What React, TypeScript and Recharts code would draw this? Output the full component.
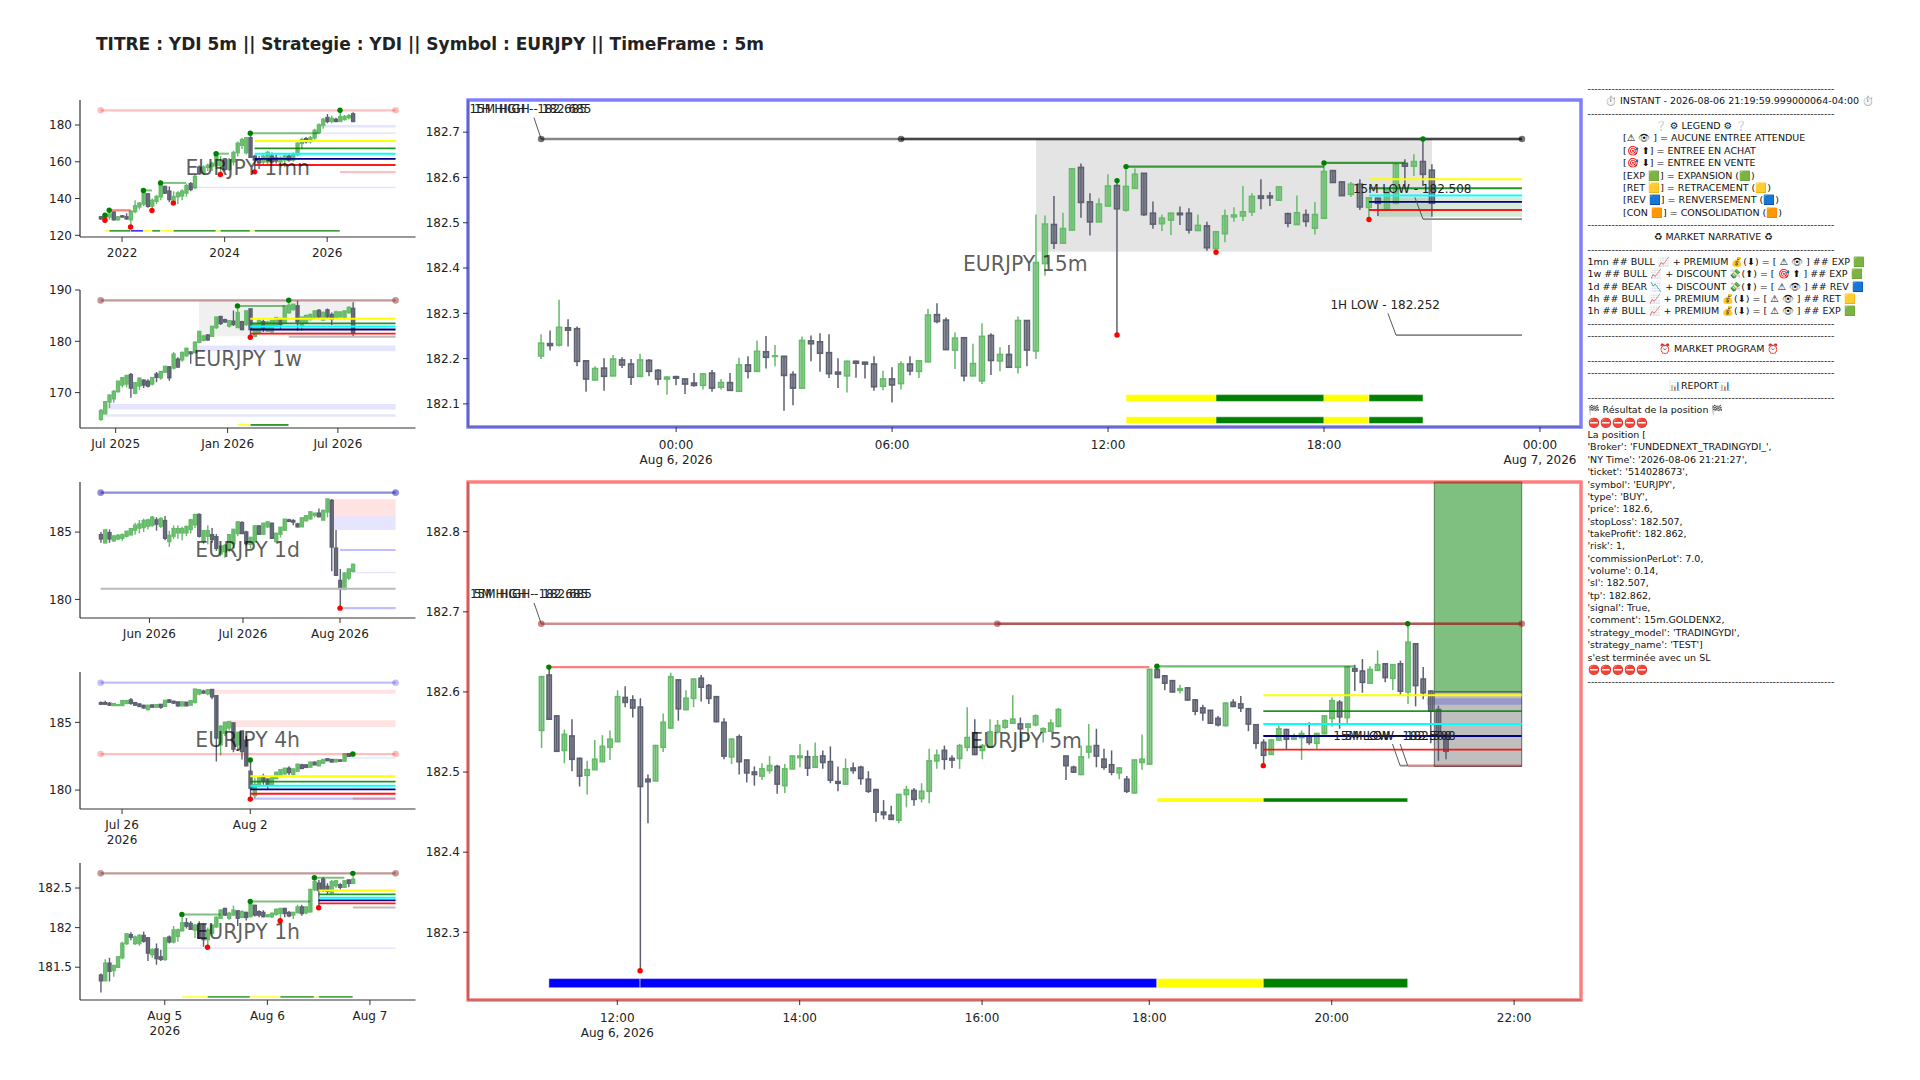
import { Bar, ComposedChart, ReferenceArea, ReferenceDot, ReferenceLine, XAxis, YAxis } from "recharts";

// candles are [open, high, low, close]
const candles1mn = [
  [130,130.5,128.5,129],[129,131,128.2,130.5],[130,133.6,128.5,131.5],[132.5,133,128,128.5],[128.5,130.5,128,130],[130.5,131,129.5,130],
  [130,132,128.5,129],[128.5,133.6,124.5,133],[133,139,132,136],[135.5,138,134,137.5],[137,144.4,136,143],[142.5,143,135,135.8],
  [136,140,133.5,139],[138.5,142,137,141],[141,148.5,139,147],[146.5,147,142.5,143],[144,146.5,138,139.5],[138,144,137.5,141],
  [141,144,137,143],[141.5,145,139,144],[143,148,141,147],[148,149,144,145],[146,153,145,152],[157,158,153,153.5],
  [154,158,153,157],[157,159,155,158],[157.5,160,155,159],[158,164.4,156,163],[158,163,153.1,160],[161.5,162,155,156],
  [156,162,155,161],[160,166,158,165],[165,171,163,170],[169,173,167,172],[165,173,164,173],[173,175.5,162,162.5],
  [163,163.5,154.5,161],[161.5,163,156,159.5],[160,164,158,163],[160,166,158,165],[163,165,159,160],[162,164,159,160.5],
  [160,163,158,162],[161,164,157,163],[163,164,160,161],[161,165,160,164],[164,171,163,170],[170,173,167,172],
  [172.5,173.5,170,171],[171,174,170,173],[173,178,172,177],[176,181,175,180],[180,184,178,183],[184,186,181,182],
  [182,185,181,183.5],[183,184,181.5,182],[182,188,182,184.5],[183,185.5,182.5,184.5],[184,186,183,185],[186,187,181.5,182],
];
const candles1w = [
  [164.8,166.8,164.5,166.5],[165.9,168.3,165.8,168.2],[168.2,169.6,167,169.5],[168.8,170.5,168,170.2],[170.2,172.3,170,172.2],[171.5,173,171,172.9],
  [171.7,173.5,171,173.3],[173.5,173.8,169,170.9],[169.9,172,169.7,171.9],[171.3,172.9,170.5,172.8],[172.4,172.6,170.9,171.5],[172.2,172.6,171,171.3],
  [171.7,173,171.4,172.9],[173.6,174,172,173],[172.9,174.2,172.5,174.1],[174,175.2,173.8,175.1],[175,175.2,172.3,172.9],[174.8,177.9,174.5,177.5],
  [176.5,176.9,174.9,175],[176.4,178,176,177.8],[177.2,178.8,177,178.6],[177.9,178,175.6,177.6],[177.8,180,177.7,179.8],[179.8,182,179.6,181.9],
  [180.2,181.3,180,181],[181.2,181.4,180.1,180.3],[181,183,180.9,182.9],[182.7,184.8,182.4,184.7],[184.8,185,183.2,183.5],[184.2,184.4,183.6,183.8],
  [183,184,182.7,184],[183.9,186,183,183.3],[182.7,186.9,182.6,185.6],[183.8,184,182.2,182.3],[183.3,186,183,185.9],[186.3,186.3,180.8,182.3],
  [181,183.3,180.8,183.3],[181.7,184.4,181.4,184],[183.8,184.2,181.8,182.4],[182,184,181.8,183.7],[181.9,184.3,181.6,184],[183,184.7,182.8,184.6],
  [184.3,184.6,182.4,183.3],[183.6,187,183.5,186.9],[185.6,188,185.4,187],[186.2,187.3,186,187.2],[186.9,187.9,182,183.8],[183,184.8,182,184.7],
  [183.6,185.2,183.4,185],[184.3,185.4,184,185.2],[184.6,186,184.4,185.9],[186,186.3,184.5,184.8],[184.2,185.8,184,185.6],[186.1,186.4,184.4,184.8],
  [185.2,185.6,183.2,184.3],[184.6,186,184.4,185.7],[184.8,185.8,184.6,185.7],[184.6,186,184.2,185.9],[185.6,186.8,185.4,186.6],[186.4,187.6,181,181.7],
];
const candles1d = [
  [184.8,185,184.2,184.5],[184.2,185.2,184.2,185.15],[184.95,185.2,184.2,184.5],[184.35,184.8,184.3,184.7],[184.5,184.85,184.4,184.75],[184.55,184.9,184.35,184.8],
  [184.7,185.1,184.6,185.05],[184.8,185.3,184.8,185.25],[185.15,185.7,184.8,185.5],[185.3,185.9,184.9,185.6],[185.35,186,185,185.85],[185.45,186,185.2,185.9],
  [185.5,186.2,185.4,186.1],[185.9,186.1,185.1,185.6],[185.45,186.1,185.3,186],[185.85,186.2,184.4,184.55],[184.3,185.1,183.9,184.75],[184.7,185.5,184.5,185.25],
  [184.95,185.5,184.5,185.25],[184.95,185.4,184.4,185.25],[184.95,185.5,184.7,185.4],[185.2,186,184.9,185.9],[185.55,186.3,185.3,186.3],[186.3,186.4,184.6,184.7],
  [184.35,185.1,184.1,185.1],[184.7,185.5,184.1,185.1],[184.8,185.3,184.2,184.45],[184.65,184.85,183.6,183.8],[183.4,184,183.2,183.95],[183.55,184.1,183.1,184],
  [183.8,184.8,183.5,184.8],[184.15,185.2,183.8,185.2],[184.9,185.8,184.7,185.75],[185.7,185.8,184.9,184.9],[185,185.1,184,184.15],[184.1,184.6,183.8,184.6],
  [184.3,185.5,184.2,185.45],[185.45,185.5,184.8,184.85],[184.85,185.65,184.8,185.65],[185.4,185.8,185.3,185.75],[185.65,185.7,184.5,184.55],[184.3,184.95,184.3,184.9],
  [184.85,185.35,184.6,185.35],[185.15,185.95,185.1,185.95],[185.9,186,185.75,185.8],[185.85,185.95,185.5,185.75],[185.6,185.7,185.35,185.4],[185.4,186.05,185.4,186.05],
  [185.85,186.25,185.8,186.2],[186,186.55,185.9,186.5],[186.25,186.4,186.1,186.4],[186.4,186.75,186.1,186.15],[185.9,186.65,185.9,186.6],[186.5,187.45,186.1,187.45],
  [187.35,187.45,182.1,183.9],[183.8,185.15,181.8,181.8],[181.4,182.25,179.35,180.8],[180.75,182,180.75,181.95],[181.6,182.3,181.45,182.25],[182.1,182.65,182,182.6],
];
const candles4h = [
  [186.45,186.55,186.3,186.35],[186.45,186.6,186.3,186.35],[186.4,186.5,186.2,186.28],[186.25,186.4,186.2,186.38],[186.25,186.35,186.2,186.3],[186.25,186.62,186.2,186.6],
  [186.4,186.65,186.35,186.6],[186.65,186.8,186.3,186.42],[186.45,186.5,186.25,186.28],[186.35,186.4,186.15,186.18],[186.25,186.3,186,186.08],[185.95,186.3,185.9,186.25],
  [186.28,186.3,186.1,186.13],[186.13,186.32,186.1,186.3],[186.32,186.35,186,186.13],[186.2,186.65,186.15,186.62],[186.65,186.7,186.45,186.5],[186.55,186.6,186.35,186.43],
  [186.5,186.55,186.15,186.23],[186.23,186.52,186.2,186.5],[186.48,186.5,186.2,186.23],[186.28,186.65,186.25,186.6],[186.48,187.46,186.4,187.45],[187.12,187.45,187,187.4],
  [187.3,187.4,187.15,187.17],[187.12,187.42,187,187.4],[187.42,187.45,186.7,186.9],[186.97,187,182.1,183.85],[183.35,184.8,182.55,184.7],[184.2,185.05,184,185],
  [184.6,185.1,184.4,185.05],[184.95,185,182.8,183.03],[183.35,184.3,182.9,184.25],[184.35,184.4,182.25,182.85],[183.67,184,181.75,181.8],[181.38,182.2,179.35,180.15],
  [179.6,180.9,179.4,180.4],[180.4,180.95,180.2,180.9],[181,181.2,180.4,180.65],[180.8,180.85,180.1,180.4],[180.4,181,180.3,180.9],[180.85,181.35,180.85,181.3],
  [181.1,181.55,181,181.5],[181.2,181.65,181.15,181.6],[181.6,181.75,181.1,181.3],[181.15,181.6,181.1,181.55],[181.4,181.95,181.4,181.9],[181.85,181.95,181.55,181.6],
  [181.85,181.9,181.65,181.68],[181.7,182.1,181.65,182.05],[182.05,182.1,181.85,181.87],[181.8,182.2,181.75,182.15],[182,182.3,181.95,182.25],[182.3,182.32,182.15,182.18],
  [182.25,182.28,182.05,182.08],[182.1,182.28,182.05,182.25],[182.22,182.26,182.1,182.14],[182.14,182.7,182.12,182.66],[182.68,182.72,182.45,182.5],[182.55,182.75,182.5,182.7],
];
const candles1h = [
  [181.4,181.42,181.18,181.33],[181.33,181.6,181.33,181.55],[181.55,181.62,181.32,181.45],[181.46,181.53,181.38,181.52],[181.5,181.63,181.5,181.63],[181.62,181.82,181.6,181.8],
  [181.8,181.93,181.78,181.92],[181.91,181.94,181.84,181.88],[181.8,181.9,181.78,181.88],[181.8,181.92,181.77,181.9],[181.9,181.95,181.81,181.83],[181.87,181.88,181.58,181.68],
  [181.66,181.74,181.62,181.72],[181.73,181.8,181.53,181.61],[181.63,181.72,181.58,181.6],[181.6,181.87,181.58,181.87],[181.88,181.9,181.8,181.82],[181.82,182.02,181.8,181.97],
  [181.89,181.99,181.82,181.97],[181.96,182.17,181.96,182.06],[182.06,182.12,181.99,182.02],[182.05,182.08,181.97,181.98],[181.97,182.05,181.87,182.03],[182.03,182.08,181.86,181.87],
  [182.03,182.05,181.76,181.85],[181.85,182,181.75,181.97],[181.93,182.03,181.9,182.03],[182.01,182.14,182,182.13],[182.12,182.23,182.12,182.22],[182.24,182.25,182.15,182.16],
  [182.12,182.2,182.1,182.18],[182.16,182.28,182.15,182.22],[182.21,182.22,182.02,182.12],[182.13,182.22,182.12,182.2],[182.19,182.2,182.09,182.13],[182.14,182.33,182.13,182.29],
  [182.28,182.29,182.14,182.16],[182.2,182.22,182.13,182.16],[182.19,182.22,182.13,182.14],[182.14,182.17,182.13,182.16],[182.14,182.19,182.12,182.18],[182.17,182.24,182.15,182.23],
  [182.18,182.25,182.09,182.24],[182.24,182.25,182.13,182.18],[182.19,182.21,182.13,182.15],[182.16,182.2,182.11,182.19],[182.19,182.29,182.18,182.26],[182.26,182.29,182.15,182.18],
  [182.19,182.27,182.17,182.26],[182.2,182.49,182.19,182.48],[182.48,182.63,182.46,182.58],[182.56,182.6,182.25,182.47],[182.61,182.64,182.45,182.48],[182.52,182.56,182.42,182.46],
  [182.44,182.6,182.43,182.58],[182.53,182.6,182.5,182.59],[182.54,182.56,182.48,182.51],[182.51,182.6,182.5,182.59],[182.6,182.61,182.51,182.56],[182.56,182.69,182.55,182.61],
];
const candles15m = [
  [182.206,182.254,182.199,182.234],[182.233,182.262,182.218,182.229],[182.230,182.330,182.227,182.269],[182.268,182.287,182.227,182.263],[182.266,182.271,182.183,182.194],
  [182.195,182.195,182.127,182.155],[182.153,182.183,182.152,182.178],[182.179,182.201,182.129,182.161],[182.162,182.208,182.161,182.199],[182.197,182.203,182.179,182.186],
  [182.188,182.199,182.142,182.159],[182.161,182.211,182.159,182.197],[182.196,182.199,182.161,182.172],[182.174,182.177,182.141,182.155],[182.155,182.161,182.120,182.159],
  [182.160,182.162,182.141,182.157],[182.155,182.155,182.122,182.144],[182.146,182.168,182.138,182.141],[182.141,182.168,182.132,182.166],[182.168,182.175,182.127,182.135],
  [182.137,182.155,182.132,182.147],[182.147,182.168,182.129,182.130],[182.128,182.202,182.127,182.186],[182.186,182.205,182.156,182.172],[182.172,182.240,182.172,182.216],
  [182.215,182.250,182.178,182.203],[182.205,182.230,182.183,182.206],[182.205,182.206,182.085,182.163],[182.165,182.172,182.097,182.135],[182.135,182.249,182.134,182.240],
  [182.239,182.251,182.194,182.233],[182.237,182.256,182.171,182.212],[182.213,182.254,182.157,182.167],[182.170,182.201,182.135,182.166],[182.162,182.196,182.125,182.194],
  [182.194,182.196,182.158,182.190],[182.192,182.193,182.156,182.188],[182.188,182.205,182.129,182.138],[182.139,182.173,182.130,182.155],[182.155,182.181,182.103,182.142],
  [182.145,182.194,182.132,182.188],[182.188,182.205,182.163,182.173],[182.172,182.197,182.157,182.195],[182.193,182.310,182.192,182.296],[182.297,182.322,182.278,182.282],
  [182.285,182.291,182.219,182.220],[182.219,182.258,182.177,182.245],[182.246,182.247,182.150,182.162],[182.162,182.233,182.161,182.189],[182.151,182.278,182.144,182.249],
  [182.251,182.256,182.164,182.196],[182.195,182.225,182.172,182.209],[182.209,182.230,182.179,182.181],[182.181,182.293,182.167,182.284],[182.284,182.284,182.183,182.219],
  [182.217,182.518,182.199,182.412],[182.410,182.516,182.383,182.497],[182.496,182.559,182.442,182.455],[182.455,182.522,182.453,182.487],[182.484,182.620,182.483,182.619],
  [182.622,182.631,182.511,182.545],[182.546,182.565,182.472,182.502],[182.502,182.554,182.502,182.541],[182.537,182.607,182.536,182.581],[182.582,182.593,182.252,182.531],
  [182.528,182.624,182.524,182.580],[182.576,182.620,182.575,182.607],[182.609,182.610,182.515,182.518],[182.521,182.547,182.487,182.497],[182.498,182.518,182.482,182.510],
  [182.506,182.522,182.473,182.521],[182.521,182.536,182.495,182.518],[182.521,182.532,182.476,182.484],[182.483,182.518,182.482,182.494],[182.493,182.502,182.438,182.445],
  [182.443,182.482,182.435,182.480],[182.476,182.529,182.457,182.515],[182.513,182.534,182.502,182.517],[182.515,182.581,182.504,182.524],[182.524,182.565,182.515,182.558],
  [182.559,182.596,182.530,182.554],[182.559,182.568,182.537,182.555],[182.550,182.580,182.549,182.579],[182.520,182.522,182.490,182.499],[182.496,182.560,182.495,182.522],
  [182.518,182.529,182.491,182.503],[182.488,182.546,182.474,182.518],[182.510,182.632,182.509,182.613],[182.615,182.615,182.588,182.589],[182.590,182.591,182.560,182.560],
  [182.563,182.590,182.557,182.585],[182.585,182.596,182.528,182.535],[182.534,182.557,182.507,182.555],[182.554,182.555,182.515,182.543],[182.529,182.576,182.528,182.575],
  [182.543,182.632,182.541,182.629],[182.631,182.640,182.576,182.625],[182.625,182.651,182.603,182.635],[182.635,182.685,182.581,182.607],[182.616,182.629,182.513,182.543],
];
const candles5m = [
  [182.552,182.620,182.530,182.619],[182.621,182.631,182.565,182.566],[182.570,182.571,182.525,182.526],[182.527,182.553,182.511,182.547],[182.545,182.566,182.501,182.516],
  [182.517,182.518,182.482,182.495],[182.496,182.514,182.472,182.503],[182.503,182.540,182.503,182.516],[182.513,182.546,182.513,182.532],[182.531,182.552,182.515,182.541],
  [182.538,182.602,182.538,182.594],[182.593,182.607,182.581,182.587],[182.590,182.596,182.568,182.580],[182.581,182.592,182.252,182.482],[182.491,182.497,182.436,182.488],
  [182.489,182.534,182.489,182.533],[182.531,182.573,182.525,182.562],[182.555,182.624,182.554,182.619],[182.615,182.616,182.564,182.579],[182.578,182.602,182.577,182.592],
  [182.592,182.617,182.581,182.616],[182.617,182.621,182.588,182.606],[182.608,182.610,182.585,182.592],[182.594,182.594,182.562,182.563],[182.562,182.567,182.516,182.520],
  [182.519,182.542,182.510,182.541],[182.544,182.547,182.497,182.513],[182.515,182.515,182.487,182.499],[182.500,182.507,182.483,182.497],[182.495,182.511,182.490,182.504],
  [182.502,182.520,182.498,182.508],[182.507,182.509,182.473,182.485],[182.483,182.510,182.474,182.504],[182.504,182.521,182.504,182.520],[182.518,182.535,182.506,182.520],
  [182.519,182.527,182.495,182.505],[182.506,182.537,182.506,182.519],[182.520,182.527,182.504,182.512],[182.513,182.532,182.486,182.490],[182.488,182.507,182.476,182.486],
  [182.485,182.517,182.484,182.504],[182.505,182.512,182.498,182.502],[182.506,182.508,182.484,182.492],[182.491,182.501,182.474,182.476],[182.478,182.479,182.438,182.450],
  [182.450,182.465,182.441,182.447],[182.446,182.458,182.440,182.441],[182.440,182.472,182.436,182.472],[182.472,182.483,182.456,182.478],[182.477,182.480,182.458,182.466],
  [182.467,182.486,182.462,182.476],[182.476,182.529,182.461,182.514],[182.514,182.528,182.504,182.521],[182.527,182.533,182.503,182.516],[182.517,182.521,182.505,182.515],
  [182.517,182.535,182.504,182.533],[182.531,182.581,182.526,182.543],[182.549,182.566,182.521,182.522],[182.527,182.535,182.516,182.533],[182.531,182.566,182.530,182.550],
  [182.550,182.565,182.548,182.558],[182.556,182.566,182.554,182.564],[182.561,182.596,182.560,182.566],[182.560,182.568,182.530,182.554],[182.556,182.561,182.539,182.560],
  [182.559,182.572,182.557,182.570],[182.550,182.556,182.537,182.554],[182.551,182.566,182.550,182.561],[182.557,182.580,182.556,182.578],[182.520,182.520,182.490,182.508],
  [182.506,182.508,182.499,182.500],[182.497,182.533,182.496,182.519],[182.525,182.560,182.517,182.532],[182.533,182.554,182.506,182.520],[182.516,182.529,182.503,182.506],
  [182.509,182.527,182.496,182.500],[182.499,182.506,182.491,182.505],[182.491,182.495,182.474,182.476],[182.474,182.515,182.473,182.515],[182.512,182.547,182.503,182.516],
  [182.510,182.629,182.510,182.628],[182.628,182.632,182.618,182.618],[182.620,182.621,182.602,182.611],[182.614,182.614,182.600,182.600],[182.602,182.609,182.598,182.604],
  [182.605,182.606,182.589,182.590],[182.590,182.591,182.571,182.576],[182.580,182.584,182.564,182.574],[182.577,182.577,182.560,182.561],[182.567,182.570,182.557,182.559],
  [182.558,182.587,182.557,182.586],[182.587,182.591,182.581,182.582],[182.585,182.595,182.575,182.580],[182.579,182.580,182.551,182.560],[182.559,182.560,182.529,182.536],
  [182.537,182.541,182.508,182.521],[182.522,182.541,182.522,182.540],[182.540,182.558,182.539,182.554],[182.553,182.554,182.529,182.541],[182.541,182.548,182.540,182.545],
  [182.543,182.552,182.515,182.548],[182.545,182.562,182.534,182.537],[182.536,182.549,182.529,182.548],[182.548,182.571,182.547,182.570],[182.567,182.593,182.557,182.589],
  [182.587,182.590,182.554,182.569],[182.568,182.632,182.560,182.631],[182.629,182.634,182.601,182.626],[182.626,182.641,182.599,182.612],[182.611,182.632,182.611,182.628],
  [182.627,182.652,182.626,182.634],[182.635,182.636,182.612,182.618],[182.617,182.634,182.602,182.634],[182.635,182.639,182.596,182.601],[182.600,182.685,182.585,182.662],
  [182.660,182.661,182.582,182.608],[182.616,182.631,182.591,182.599],[182.601,182.602,182.536,182.576],[182.578,182.583,182.514,182.547],[182.547,182.549,182.516,182.526],
];

// overlays: [kind, from, to, price]
const segs1mn = [["pink",0,69,188],["pinkStair",2,7,133.6],["stairSm",10,12,144.4],["stairSm",14,20,148.5],["stairSm",27,30,164.4],["stairSm",35,51,175.5],
  ["yellow",36,69,171.3],["yellow",56,69,171.3],["green",36,69,167.3],["cyan",36,69,164.4],["navy",36,69,161.6],["red",36,69,158.2],["pink",56,69,154.4],["lav",50,69,175.5],["lav",21,69,146]];
const zones1mn = [["lavZone",51,69,178.7,180],["yellowRow",1,2,121.9,122.9],["greenRow",2,7,121.9,122.9],["blueRow",7,10,121.9,122.9],["yellowRow",10,12,121.9,122.9],["greenRow",12,14,121.9,122.9],["yellowRow",14,17,121.9,122.9],["greenRow",17,27,121.9,122.9],["yellowRow",27,28,121.9,122.9],["greenRow",28,35,121.9,122.9],["yellowRow",35,36,121.9,122.9],["greenRow",36,56,121.9,122.9]];
const dots1mn = [["pinkEnd",0,188],["pinkEnd",69,188],["up",1,130.9],["up",2,133.6],["up",10,144.4],["up",14,148.5],["up",27,164.4],["up",35,175.5],["up",56,188],["down",1,128.2],["down",7,124.5],["down",12,133.5],["down",17,137.5],["down",28,153.1],["down",36,154.5]];

const segs1w = [["brown",0,69,187.97],["stairSm",32,43,186.9],["yellow",35,69,184.4],["green",35,69,183.5],["cyan",35,69,182.9],["navy",35,69,182.3],["red",35,69,181.5],["graySm",44,69,180.9]];
const zones1w = [["paleGray",23,59.7,181,187.9],["lavZone",22.5,69,178.07,179.2],["lavZone",1,69,166.7,167.8],["lavZone",1,69,165.3,165.8],["yellowRow",32,35,163.5,163.9],["greenRow",35,44,163.5,163.9]];
const dots1w = [["brownEnd",0,187.97],["brownEnd",69,187.97],["up",32,186.9],["up",44,188],["down",35,180.8]];

const segs1d = [["blue",0,69,187.93],["graySm",0,69,180.79],["lavBold",56,69,183.67],["lavBold",56,69,179.36],["lav",59,69,182]];
const zones1d = [["pinkZone",54,69,186.18,187.44],["lavZone",54,69,185.15,186.18]];
const dots1d = [["blueEnd",0,187.93],["blueEnd",69,187.93],["down",56,179.35]];

const segs4h = [["lavBold",0,69,187.93],["pink",0,69,182.66],["yellow",35,69,181.01],["green",35,69,180.62],["cyan",35,69,180.32],["navy",35,69,180.05],["red",35,69,179.73],["lavBold",35,69,179.36],["pink",59,69,179.36],["lav",57,69,182.36]];
const zones4h = [["pinkZone",26,69,187.12,187.41],["pinkZone",30,69,184.66,185.15]];
const dots4h = [["lavEnd",0,187.93],["lavEnd",69,187.93],["pinkEnd",0,182.66],["pinkEnd",69,182.66],["up",35,182.22],["up",59,182.66],["down",35,179.33]];

const segs1h = [["brown",0,69,182.685],["stairSm",19,28,182.167],["stairSm",35,49,182.33],["stairSm",50,57,182.63],["yellow",51,69,182.47],["green",51,69,182.42],["cyan",51,69,182.378],["navy",51,69,182.344],["red",51,69,182.306],["graySm",59,69,182.255]];
const zones1h = [["lavZone",15,69,181.73,181.75],["yellowRow",19,25,181.113,181.135],["greenRow",25,35,181.113,181.135],["yellowRow",35,42,181.113,181.135],["greenRow",42,50,181.113,181.135],["yellowRow",50,51,181.113,181.135],["greenRow",51,59,181.113,181.135]];
const dots1h = [["brownEnd",0,182.685],["brownEnd",69,182.685],["up",19,182.167],["up",35,182.33],["up",50,182.63],["up",59,182.685],["down",25,181.753],["down",42,182.086],["down",51,182.25]];

const segs15m = [["high",0,109,182.685],["high",40,109,182.685],["stair",65,87,182.624],["stair",87,96,182.632],
  ["yellow",92,109,182.596],["green",92,109,182.576],["cyan",92,109,182.56],["navy",92,109,182.546],["red",92,109,182.528],["gray",98,109,182.508],["gray",95,109,182.252]];
const zones15m = [["gray15",55,99,182.436,182.685],["greenZone",93,109,182.513,182.556],
  ["yellowRow",65,75,182.1055,182.1205],["greenRow",75,87,182.1055,182.1205],["yellowRow",87,92,182.1055,182.1205],["greenRow",92,98,182.1055,182.1205],
  ["yellowRow",65,75,182.0565,182.0715],["greenRow",75,87,182.0565,182.0715],["yellowRow",87,92,182.0565,182.0715],["greenRow",92,98,182.0565,182.0715]];
const dots15m = [["highEnd",0,182.685],["highEnd",40,182.685],["highEnd",109,182.685],["up",65,182.624],["up",64,182.593],["up",87,182.632],["up",98,182.685],["down",64,182.252],["down",75,182.435],["down",92,182.507]];
const leaders15m = [[-0.8,182.732,0,182.685],[94.1,182.3,95,182.252],[97.1,182.556,98,182.508]];
const labels15m = [["note","15M HIGH - 182.685",-1.2,182.751],["note","1H HIGH - 182.685",-1.2,182.751],["note","1H LOW - 182.252",93.8,182.319],["note","15M LOW - 182.508",96.8,182.575],["title","EURJPY 15m",53.8,182.409]];

const segs5m = [["highRed",0,129,182.685],["highRed",60,129,182.685],["pinkStair",1,80,182.631],["stair5",81,107,182.632],
  ["yellow",95,129,182.596],["green",95,129,182.576],["cyan",95,129,182.56],["navy",95,129,182.545],["red",95,129,182.528],["gray",113,114,182.508],["highRed",114,129,182.508]];
const zones5m = [["tp",117.5,129,182.6,182.862],["sl",117.5,129,182.507,182.6],["slBlue",116.5,129,182.584,182.592],
  ["blueRow",1,13,182.2308,182.2422],["blueRow",13,81,182.2308,182.2422],["yellowRow",81,95,182.2308,182.2422],["greenRow",95,114,182.2308,182.2422],
  ["yellowRow",81,95,182.4625,182.4675],["greenRow",95,114,182.4625,182.4675]];
const dots5m = [["highRedEnd",0,182.685],["highRedEnd",60,182.685],["highRedEnd",129,182.685],["up",1,182.631],["up",81,182.632],["up",114,182.685],["down",13,182.252],["down",95,182.508]];
const leaders5m = [[-0.95,182.711,0,182.685],[112,182.535,113,182.508],[113,182.535,114,182.508]];
const labels5m = [["note","15M HIGH - 182.685",-1.36,182.722],["note","5M HIGH - 182.685",-1.36,182.722],["note","15M LOW - 182.508",112,182.545],["note","5M LOW - 182.508",113,182.545],["title","EURJPY 5m",63.8,182.539]];

const ticksMn = [[5,"2022"],[29,"2024"],[53,"2026"]];
const ticks1w = [[3.5,"Jul 2025"],[29.7,"Jan 2026"],[55.5,"Jul 2026"]];
const ticks1d = [[11.4,"Jun 2026"],[33.3,"Jul 2026"],[56,"Aug 2026"]];
const ticks4h = [[5,"Jul 26","2026"],[35,"Aug 2"]];
const ticks1h = [[15,"Aug 5","2026"],[39,"Aug 6"],[63,"Aug 7"]];
const ticks15m = [[15,"00:00","Aug 6, 2026"],[39,"06:00"],[63,"12:00"],[87,"18:00"],[111,"00:00","Aug 7, 2026"]];
const ticks5m = [[10,"12:00","Aug 6, 2026"],[34,"14:00"],[58,"16:00"],[80,"18:00"],[104,"20:00"],[128,"22:00"]];

const FONT = "'DejaVu Sans', sans-serif";
const UP = "#66bb6a";
const DOWN = "#5d6070";

const segStyles: any = {
  high: { stroke: "#000", strokeWidth: 2.5, strokeOpacity: 0.47 },
  highRed: { stroke: "#9a1f1f", strokeWidth: 2.5, strokeOpacity: 0.5 },
  pink: { stroke: "#ff0000", strokeWidth: 2.2, strokeOpacity: 0.25 },
  brown: { stroke: "#8a3030", strokeWidth: 2.4, strokeOpacity: 0.5 },
  blue: { stroke: "#0000aa", strokeWidth: 2.4, strokeOpacity: 0.45 },
  yellow: { stroke: "#ffff00", strokeWidth: 2 },
  green: { stroke: "#008000", strokeWidth: 1.9, strokeOpacity: 0.85 },
  cyan: { stroke: "#00ffff", strokeWidth: 2 },
  navy: { stroke: "#000080", strokeWidth: 1.8 },
  red: { stroke: "#ff0000", strokeWidth: 1.9, strokeOpacity: 0.9 },
  gray: { stroke: "#888", strokeWidth: 1.8 },
  graySm: { stroke: "#bbb", strokeWidth: 2 },
  stair: { stroke: "#008000", strokeWidth: 2.2, strokeOpacity: 0.75 },
  stair5: { stroke: "#008000", strokeWidth: 2.2, strokeOpacity: 0.55 },
  stairSm: { stroke: "#008000", strokeWidth: 2, strokeOpacity: 0.5 },
  pinkStair: { stroke: "#ff0000", strokeWidth: 2.2, strokeOpacity: 0.5 },
  lav: { stroke: "#0000ff", strokeWidth: 1.5, strokeOpacity: 0.1 },
  lavBold: { stroke: "#0000ff", strokeWidth: 2.2, strokeOpacity: 0.25 },
};
const zoneStyles: any = {
  gray15: { fill: "#000", fillOpacity: 0.105 },
  paleGray: { fill: "#000", fillOpacity: 0.06 },
  greenZone: { fill: "#008000", fillOpacity: 0.15 },
  lavZone: { fill: "#0000ff", fillOpacity: 0.1 },
  pinkZone: { fill: "#ff0000", fillOpacity: 0.11 },
  tp: { fill: "#008000", fillOpacity: 0.5, stroke: "#2a5a2a", strokeOpacity: 0.7 },
  sl: { fill: "#808080", fillOpacity: 0.5, stroke: "#333", strokeOpacity: 0.7 },
  slBlue: { fill: "#0000ff", fillOpacity: 0.2 },
  yellowRow: { fill: "#ffff00", fillOpacity: 1, stroke: "#fff", strokeWidth: 0.5 },
  greenRow: { fill: "#008000", fillOpacity: 1, stroke: "#fff", strokeWidth: 0.5 },
  blueRow: { fill: "#0000ff", fillOpacity: 1, stroke: "#fff", strokeWidth: 0.5 },
};
const dotStyles: any = {
  up: { fill: "#008000", fillOpacity: 1, r: 2.7 },
  down: { fill: "#ff0000", fillOpacity: 1, r: 2.7 },
  highEnd: { fill: "#000", fillOpacity: 0.55, r: 3.3 },
  highRedEnd: { fill: "#9a1f1f", fillOpacity: 0.55, r: 3.3 },
  pinkEnd: { fill: "#ff0000", fillOpacity: 0.25, r: 3.3 },
  brownEnd: { fill: "#8a3030", fillOpacity: 0.5, r: 3.3 },
  blueEnd: { fill: "#0000aa", fillOpacity: 0.45, r: 3.3 },
  lavEnd: { fill: "#0000ff", fillOpacity: 0.25, r: 3.3 },
};

function Candle(props: any) {
  const { x, y, width, height, payload, wick, edge } = props;
  const [o, h, l, c] = payload.ohlc;
  const perUnit = h > l ? height / (h - l) : 0;
  const cx = x + width / 2;
  const top = y + (h - Math.max(o, c)) * perUnit;
  const bottom = y + (h - Math.min(o, c)) * perUnit;
  const color = c >= o ? UP : DOWN;
  return (
    <g>
      <line x1={cx} x2={cx} y1={y} y2={y + height} stroke={color} strokeWidth={wick} />
      <rect x={x} y={top} width={width} height={Math.max(bottom - top, 0.5)} fill={color} fillOpacity={0.55} stroke={color} strokeWidth={edge} />
    </g>
  );
}

function NoteText(props: any) {
  const { cx, cy, text, kind } = props;
  const isTitle = kind === "title";
  return (
    <text x={cx} y={cy} textAnchor="middle" dominantBaseline="central" fontFamily={FONT} fontSize={isTitle ? 20.4 : 12}
      fill={isTitle ? "#000" : "#222"} fillOpacity={isTitle ? 0.65 : 1}>{text}</text>
  );
}

function AxisTick(props: any) {
  const { x, y, payload, rows, shift } = props;
  const row = rows.find((r: any[]) => r[0] === payload.value) || [];
  return (
    <text x={x} y={y + shift} textAnchor="middle" fontFamily={FONT} fontSize={12} fill="#222">
      <tspan x={x}>{row[1]}</tspan>
      {row[2] ? <tspan x={x} dy={15}>{row[2]}</tspan> : null}
    </text>
  );
}

function Panel({ box, candles, xDomain, yDomain, yTicks, xRows, segs, zones, dots, labels = [], leaders = [], barSize, frame }: any) {
  const [x0, y0, x1, y1] = box;
  const data = candles.map((ohlc: number[], i: number) => ({ i, ohlc, range: [ohlc[2], ohlc[1]] }));
  const line = { stroke: "#333", strokeOpacity: frame ? 0.55 : 1, strokeWidth: 1.2 };
  return (
    <div style={{ position: "absolute", left: x0 - 70, top: y0 - 14 }}>
      <ComposedChart width={x1 - x0 + 84} height={y1 - y0 + 59} data={data} margin={{ top: 14, right: 14, bottom: 0, left: 0 }}>
        <XAxis dataKey="i" type="number" domain={xDomain} allowDataOverflow ticks={xRows.map((r: any[]) => r[0])} interval={0} height={45}
          tick={<AxisTick rows={xRows} shift={frame ? 15 : 13} />} tickSize={5} axisLine={line} tickLine={{ stroke: "#333" }} />
        <YAxis type="number" domain={yDomain} allowDataOverflow ticks={yTicks} interval={0} width={70} tickSize={5} tickMargin={3} axisLine={line} tickLine={{ stroke: "#333" }}
          tickFormatter={(v: number) => String(v)} tick={{ fill: "#222", fontSize: 12, fontFamily: FONT }} />
        {zones.map((z: any[], n: number) => (
          <ReferenceArea key={"z" + n} x1={z[1]} x2={z[2]} y1={z[3]} y2={z[4]} ifOverflow="visible" {...zoneStyles[z[0]]} />
        ))}
        <Bar dataKey="range" barSize={barSize} isAnimationActive={false}
          shape={(p: any) => <Candle {...p} wick={frame ? 1.5 : 1.4} edge={frame ? 1.7 : 1.6} />} />
        {segs.map((s: any[], n: number) => (
          <ReferenceLine key={"s" + n} segment={[{ x: s[1], y: s[3] }, { x: s[2], y: s[3] }]} ifOverflow="visible" {...segStyles[s[0]]} />
        ))}
        {leaders.map((l: number[], n: number) => (
          <ReferenceLine key={"l" + n} segment={[{ x: l[0], y: l[1] }, { x: l[2], y: l[3] }]} ifOverflow="visible" stroke="#444" strokeWidth={0.9} />
        ))}
        {dots.map((d: any[], n: number) => (
          <ReferenceDot key={"d" + n} x={d[1]} y={d[2]} ifOverflow="visible" stroke="none" {...dotStyles[d[0]]} />
        ))}
        {labels.map((t: any[], n: number) => (
          <ReferenceDot key={"t" + n} x={t[2]} y={t[3]} r={0} ifOverflow="visible" shape={(p: any) => <NoteText {...p} kind={t[0]} text={t[1]} />} />
        ))}
        {frame ? (
          <ReferenceArea x1={xDomain[0]} x2={xDomain[1]} y1={yDomain[0]} y2={yDomain[1]} ifOverflow="visible" fill="none" stroke={frame} strokeOpacity={0.5} strokeWidth={3.5} />
        ) : null}
      </ComposedChart>
    </div>
  );
}

const DASH = "-".repeat(72);
const reportLines: [string, number][] = [
  [DASH, 1587.5], ["⏱️ INSTANT - 2026-08-06 21:19:59.999000064-04:00 ⏱️", 1605], [DASH, 1587.5],
  ["❔ ⚙ LEGEND ⚙ ❔", 1655],
  ["[⚠ 👁 ] = AUCUNE ENTREE ATTENDUE", 1623], ["[🎯 ⬆] = ENTREE EN ACHAT", 1623], ["[🎯 ⬇] = ENTREE EN VENTE", 1623],
  ["[EXP 🟩] = EXPANSION (🟩)", 1623], ["[RET 🟨] = RETRACEMENT (🟨)", 1623], ["[REV 🟦] = RENVERSEMENT (🟦)", 1623], ["[CON 🟧] = CONSOLIDATION (🟧)", 1623],
  [DASH, 1587.5], ["♻ MARKET NARRATIVE ♻", 1654], [DASH, 1587.5],
  ["1mn ## BULL 📈 + PREMIUM 💰(⬇) = [ ⚠ 👁 ] ## EXP 🟩", 1587.5], ["1w ## BULL 📈 + DISCOUNT 💸(⬆) = [ 🎯 ⬆ ] ## EXP 🟩", 1587.5],
  ["1d ## BEAR 📉 + DISCOUNT 💸(⬆) = [ ⚠ 👁 ] ## REV 🟦", 1587.5], ["4h ## BULL 📈 + PREMIUM 💰(⬇) = [ ⚠ 👁 ] ## RET 🟨", 1587.5], ["1h ## BULL 📈 + PREMIUM 💰(⬇) = [ ⚠ 👁 ] ## EXP 🟩", 1587.5],
  [DASH, 1587.5], [DASH, 1587.5], ["⏰ MARKET PROGRAM ⏰", 1659], [DASH, 1587.5], [DASH, 1587.5], ["📊REPORT📊", 1669], [DASH, 1587.5],
  ["🏁 Résultat de la position 🏁", 1587.5], ["⛔⛔⛔⛔⛔", 1587.5], ["La position [", 1587.5],
  ["'Broker': 'FUNDEDNEXT_TRADINGYDI_',", 1587.5], ["'NY Time': '2026-08-06 21:21:27',", 1587.5], ["'ticket': '514028673',", 1587.5], ["'symbol': 'EURJPY',", 1587.5],
  ["'type': 'BUY',", 1587.5], ["'price': 182.6,", 1587.5], ["'stopLoss': 182.507,", 1587.5], ["'takeProfit': 182.862,", 1587.5], ["'risk': 1,", 1587.5],
  ["'commissionPerLot': 7.0,", 1587.5], ["'volume': 0.14,", 1587.5], ["'sl': 182.507,", 1587.5], ["'tp': 182.862,", 1587.5], ["'signal': True,", 1587.5],
  ["'comment': 15m.GOLDENX2,", 1587.5], ["'strategy_model': 'TRADINGYDI',", 1587.5], ["'strategy_name': 'TEST']", 1587.5], ["s'est terminée avec un SL", 1587.5],
  ["⛔⛔⛔⛔⛔", 1587.5], [DASH, 1587.5],
];

const SMALL_X = [-4.84, 73.66];

export default function App() {
  return (
    <div style={{ position: "absolute", left: 0, top: 0, width: 1920, height: 1080, background: "#fff", overflow: "hidden" }}>
      <div style={{ position: "absolute", left: 96, top: 34, fontFamily: FONT, fontWeight: 700, fontSize: 17, color: "#222", whiteSpace: "nowrap" }}>
        TITRE : YDI 5m || Strategie : YDI || Symbol : EURJPY || TimeFrame : 5m
      </div>

      <Panel box={[79.5, 100, 415, 237]} candles={candles1mn} xDomain={SMALL_X} yDomain={[119.07, 193.6]} yTicks={[120, 140, 160, 180]} xRows={ticksMn}
        segs={segs1mn} zones={zones1mn} dots={dots1mn} barSize={2.8} labels={[["title", "EURJPY 1mn", 34.4, 156.4]]} />
      <Panel box={[79.5, 290, 415, 428]} candles={candles1w} xDomain={SMALL_X} yDomain={[163.1, 190]} yTicks={[170, 180, 190]} xRows={ticks1w}
        segs={segs1w} zones={zones1w} dots={dots1w} barSize={2.8} labels={[["title", "EURJPY 1w", 34.4, 176.55]]} />
      <Panel box={[79.5, 482, 415, 618]} candles={candles1d} xDomain={SMALL_X} yDomain={[178.62, 188.72]} yTicks={[180, 185]} xRows={ticks1d}
        segs={segs1d} zones={zones1d} dots={dots1d} barSize={2.8} labels={[["title", "EURJPY 1d", 34.4, 183.67]]} />
      <Panel box={[79.5, 672, 415, 809]} candles={candles4h} xDomain={SMALL_X} yDomain={[178.6, 188.72]} yTicks={[180, 185]} xRows={ticks4h}
        segs={segs4h} zones={zones4h} dots={dots4h} barSize={2.8} labels={[["title", "EURJPY 4h", 34.4, 183.67]]} />
      <Panel box={[79.5, 863, 415, 1000]} candles={candles1h} xDomain={SMALL_X} yDomain={[181.086, 182.816]} yTicks={[181.5, 182, 182.5]} xRows={ticks1h}
        segs={segs1h} zones={zones1h} dots={dots1h} barSize={2.8} labels={[["title", "EURJPY 1h", 34.4, 181.95]]} />

      <Panel box={[468, 100, 1581, 427]} candles={candles15m} xDomain={[-8.13, 115.56]} yDomain={[182.049, 182.771]} yTicks={[182.1, 182.2, 182.3, 182.4, 182.5, 182.6, 182.7]}
        xRows={ticks15m} segs={segs15m} zones={zones15m} dots={dots15m} labels={labels15m} leaders={leaders15m} barSize={4.8} frame="#0000ff" />
      <Panel box={[468, 482, 1581, 1000]} candles={candles5m} xDomain={[-9.64, 136.8]} yDomain={[182.2155, 182.862]} yTicks={[182.3, 182.4, 182.5, 182.6, 182.7, 182.8]}
        xRows={ticks5m} segs={segs5m} zones={zones5m} dots={dots5m} labels={labels5m} leaders={leaders5m} barSize={4.2} frame="#ff0000" />

      {reportLines.map(([text, left], n) => (
        <div key={n} style={{ position: "absolute", left, top: 83 + n * 12.36, fontFamily: FONT, fontSize: 9.5, lineHeight: "12px", color: "#111", whiteSpace: "pre" }}>
          {text}
        </div>
      ))}
    </div>
  );
}
